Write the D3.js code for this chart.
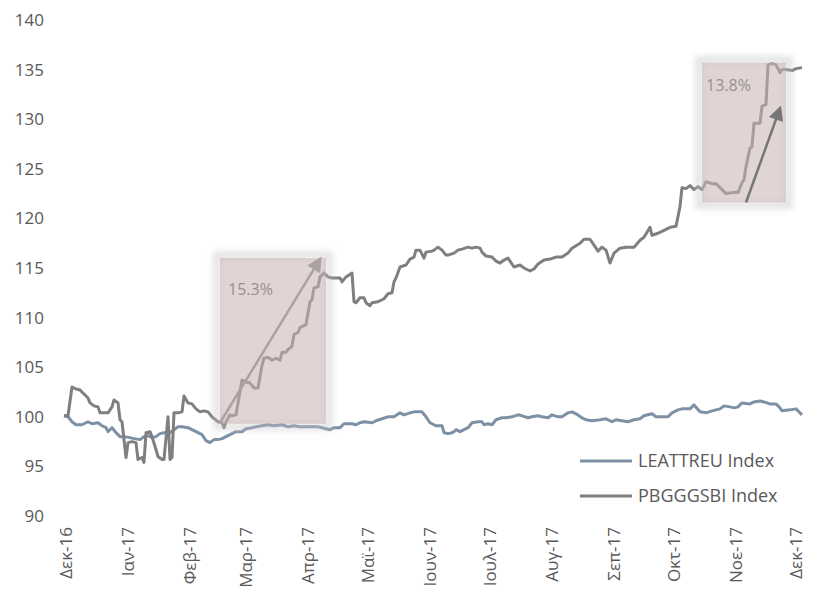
<!DOCTYPE html>
<html>
<head>
<meta charset="utf-8">
<script src="https://cdn.jsdelivr.net/npm/d3@7"></script>
<style>
  html, body { margin: 0; padding: 0; background: #ffffff; }
  svg { display: block; }
  text { font-family: "Open Sans", "DejaVu Sans", sans-serif; }
</style>
</head>
<body>
<svg id="chart" width="813" height="594"></svg>
<script>
// ---- data ----
const monthLabels = ["Δεκ-16", "Ιαν-17", "Φεβ-17", "Μαρ-17", "Απρ-17", "Μαϊ-17", "Ιουν-17",
                     "Ιουλ-17", "Αυγ-17", "Σεπ-17", "Οκτ-17", "Νοε-17", "Δεκ-17"];
const monthStarts = ["2016-12-01", "2017-01-01", "2017-02-01", "2017-03-01", "2017-04-01", "2017-05-01",
                     "2017-06-01", "2017-07-01", "2017-08-01", "2017-09-01", "2017-10-01", "2017-11-01", "2017-12-01"];
const yTicks = [90, 95, 100, 105, 110, 115, 120, 125, 130, 135, 140];

const leattreu = [
  ["2016-11-30",100.1],["2016-12-02",100.0],["2016-12-04",99.5],["2016-12-06",99.2],["2016-12-09",99.2],
  ["2016-12-12",99.5],["2016-12-14",99.3],["2016-12-17",99.4],["2016-12-19",99.1],["2016-12-21",98.9],
  ["2016-12-22",98.5],["2016-12-24",98.9],["2016-12-26",98.4],["2016-12-28",98.0],["2016-12-30",98.0],
  ["2017-01-02",97.9],["2017-01-04",97.8],["2017-01-07",97.7],["2017-01-09",98.0],["2017-01-11",98.1],
  ["2017-01-13",97.9],["2017-01-15",98.0],["2017-01-17",98.3],["2017-01-19",98.4],["2017-01-22",98.4],
  ["2017-01-24",98.7],["2017-01-26",99.0],["2017-01-28",99.0],["2017-01-31",98.9],["2017-02-02",98.7],
  ["2017-02-04",98.5],["2017-02-07",98.2],["2017-02-09",97.6],["2017-02-11",97.4],["2017-02-13",97.7],
  ["2017-02-15",97.7],["2017-02-17",97.8],["2017-02-19",98.0],["2017-02-22",98.3],["2017-02-24",98.5],
  ["2017-02-27",98.5],["2017-03-01",98.8],["2017-03-04",98.9],["2017-03-06",99.0],["2017-03-09",99.1],
  ["2017-03-12",99.2],["2017-03-15",99.1],["2017-03-19",99.2],["2017-03-22",99.0],["2017-03-25",99.1],
  ["2017-03-28",99.0],["2017-03-30",99.0],["2017-04-03",99.0],["2017-04-06",99.0],["2017-04-08",98.9],
  ["2017-04-10",98.8],["2017-04-12",98.7],["2017-04-14",98.9],["2017-04-17",98.9],["2017-04-19",99.3],
  ["2017-04-23",99.3],["2017-04-25",99.2],["2017-04-27",99.4],["2017-04-29",99.5],["2017-05-03",99.4],
  ["2017-05-05",99.6],["2017-05-08",99.8],["2017-05-11",100.0],["2017-05-14",100.0],["2017-05-17",100.4],
  ["2017-05-19",100.2],["2017-05-22",100.4],["2017-05-24",100.5],["2017-05-28",100.5],["2017-05-30",100.0],
  ["2017-06-01",99.4],["2017-06-04",99.1],["2017-06-07",99.1],["2017-06-08",98.4],["2017-06-10",98.3],
  ["2017-06-12",98.4],["2017-06-13",98.5],["2017-06-14",98.7],["2017-06-16",98.5],["2017-06-17",98.6],
  ["2017-06-20",98.9],["2017-06-22",99.4],["2017-06-25",99.5],["2017-06-27",99.5],["2017-06-28",99.2],
  ["2017-06-30",99.3],["2017-07-02",99.2],["2017-07-04",99.7],["2017-07-07",99.9],["2017-07-09",99.9],
  ["2017-07-12",100.0],["2017-07-15",100.2],["2017-07-17",100.1],["2017-07-20",99.9],["2017-07-22",100.0],
  ["2017-07-25",100.1],["2017-07-27",100.0],["2017-07-30",99.9],["2017-08-01",100.2],["2017-08-04",100.0],
  ["2017-08-06",100.0],["2017-08-09",100.4],["2017-08-11",100.5],["2017-08-13",100.3],["2017-08-16",99.9],
  ["2017-08-18",99.7],["2017-08-21",99.6],["2017-08-25",99.7],["2017-08-28",99.8],["2017-08-31",99.5],
  ["2017-09-02",99.7],["2017-09-05",99.6],["2017-09-08",99.5],["2017-09-11",99.7],["2017-09-14",99.8],
  ["2017-09-16",100.1],["2017-09-20",100.3],["2017-09-22",100.0],["2017-09-25",100.0],["2017-09-28",100.0],
  ["2017-09-30",100.4],["2017-10-03",100.7],["2017-10-05",100.8],["2017-10-09",100.8],["2017-10-11",101.2],
  ["2017-10-14",100.5],["2017-10-17",100.4],["2017-10-20",100.6],["2017-10-24",100.8],["2017-10-26",101.1],
  ["2017-10-29",101.0],["2017-10-31",100.9],["2017-11-02",101.0],["2017-11-04",101.4],["2017-11-08",101.3],
  ["2017-11-10",101.5],["2017-11-13",101.6],["2017-11-15",101.5],["2017-11-18",101.3],["2017-11-21",101.3],
  ["2017-11-23",100.9],["2017-11-24",100.6],["2017-11-28",100.7],["2017-12-01",100.8],["2017-12-03",100.4],
  ["2017-12-04",100.2]
];

const pbgggsbi = [
  ["2016-11-30",100.1],["2016-12-02",100.1],["2016-12-04",103.0],["2016-12-06",102.8],["2016-12-08",102.7],
  ["2016-12-10",102.3],["2016-12-12",101.9],["2016-12-13",101.4],["2016-12-15",101.1],["2016-12-17",101.0],
  ["2016-12-18",100.4],["2016-12-20",100.4],["2016-12-22",100.4],["2016-12-24",101.0],["2016-12-25",101.7],
  ["2016-12-27",101.4],["2016-12-28",99.7],["2016-12-29",99.5],["2016-12-31",95.9],["2017-01-01",97.4],
  ["2017-01-03",97.5],["2017-01-05",97.4],["2017-01-06",95.7],["2017-01-08",95.9],["2017-01-09",95.4],
  ["2017-01-10",98.4],["2017-01-12",98.5],["2017-01-13",98.0],["2017-01-15",96.7],["2017-01-16",96.0],
  ["2017-01-18",95.7],["2017-01-19",95.7],["2017-01-21",100.0],["2017-01-22",95.7],["2017-01-23",95.9],
  ["2017-01-24",100.4],["2017-01-26",100.4],["2017-01-28",100.5],["2017-01-29",102.1],["2017-01-31",101.4],
  ["2017-02-02",101.3],["2017-02-04",100.8],["2017-02-06",100.5],["2017-02-08",100.6],["2017-02-10",100.5],
  ["2017-02-12",100.0],["2017-02-15",99.5],["2017-02-17",99.4],["2017-02-18",98.9],["2017-02-19",99.5],
  ["2017-02-21",100.2],["2017-02-22",100.1],["2017-02-24",100.2],["2017-02-27",103.7],["2017-03-01",103.5],
  ["2017-03-03",103.4],["2017-03-05",102.9],["2017-03-07",102.9],["2017-03-09",105.2],["2017-03-10",105.9],
  ["2017-03-12",106.0],["2017-03-14",105.7],["2017-03-16",105.9],["2017-03-18",105.7],["2017-03-19",106.5],
  ["2017-03-21",106.5],["2017-03-22",106.8],["2017-03-24",107.1],["2017-03-25",108.3],["2017-03-27",108.5],
  ["2017-03-28",109.0],["2017-03-30",109.2],["2017-03-31",109.3],["2017-04-02",111.6],["2017-04-03",111.8],
  ["2017-04-04",113.0],["2017-04-06",113.1],["2017-04-07",114.1],["2017-04-09",114.5],["2017-04-11",114.1],
  ["2017-04-13",114.0],["2017-04-17",114.0],["2017-04-18",113.6],["2017-04-20",114.1],["2017-04-23",114.5],
  ["2017-04-24",111.6],["2017-04-25",111.5],["2017-04-27",112.0],["2017-04-29",112.0],["2017-04-30",111.5],
  ["2017-05-02",111.2],["2017-05-03",111.5],["2017-05-06",111.6],["2017-05-08",111.8],["2017-05-09",111.9],
  ["2017-05-11",112.4],["2017-05-13",112.5],["2017-05-14",113.6],["2017-05-15",114.0],["2017-05-17",115.1],
  ["2017-05-20",115.3],["2017-05-22",115.9],["2017-05-24",116.1],["2017-05-25",116.8],["2017-05-27",116.8],
  ["2017-05-29",116.0],["2017-05-30",116.6],["2017-06-02",116.7],["2017-06-03",116.8],["2017-06-05",117.1],
  ["2017-06-07",116.8],["2017-06-09",116.3],["2017-06-10",116.3],["2017-06-13",116.5],["2017-06-15",116.8],
  ["2017-06-17",116.9],["2017-06-20",117.1],["2017-06-22",117.0],["2017-06-24",117.1],["2017-06-26",117.0],
  ["2017-06-27",116.6],["2017-06-29",116.2],["2017-07-02",116.1],["2017-07-04",115.7],["2017-07-06",115.5],
  ["2017-07-08",115.8],["2017-07-10",116.0],["2017-07-13",115.1],["2017-07-16",115.3],["2017-07-18",115.0],
  ["2017-07-21",114.7],["2017-07-23",114.9],["2017-07-25",115.4],["2017-07-28",115.8],["2017-07-31",115.9],
  ["2017-08-03",116.1],["2017-08-06",116.1],["2017-08-09",116.5],["2017-08-11",117.0],["2017-08-15",117.5],
  ["2017-08-17",117.9],["2017-08-20",117.9],["2017-08-22",117.3],["2017-08-24",116.7],["2017-08-26",117.1],
  ["2017-08-28",116.8],["2017-08-30",115.5],["2017-09-01",116.5],["2017-09-04",117.0],["2017-09-07",117.1],
  ["2017-09-11",117.1],["2017-09-14",117.8],["2017-09-16",118.1],["2017-09-19",119.1],["2017-09-20",118.3],
  ["2017-09-23",118.5],["2017-09-26",118.8],["2017-09-29",119.1],["2017-10-02",119.2],["2017-10-04",121.2],
  ["2017-10-05",123.1],["2017-10-07",123.0],["2017-10-09",123.3],["2017-10-11",122.9],["2017-10-13",123.2],
  ["2017-10-15",122.9],["2017-10-17",123.7],["2017-10-20",123.5],["2017-10-22",123.5],["2017-10-25",122.9],
  ["2017-10-27",122.5],["2017-10-30",122.6],["2017-11-02",122.6],["2017-11-04",123.6],["2017-11-05",123.9],
  ["2017-11-06",125.2],["2017-11-08",127.1],["2017-11-09",127.2],["2017-11-10",129.6],["2017-11-13",129.6],
  ["2017-11-14",131.3],["2017-11-16",131.5],["2017-11-17",135.5],["2017-11-19",135.6],["2017-11-21",135.5],
  ["2017-11-23",134.7],["2017-11-24",135.0],["2017-11-26",135.0],["2017-11-29",134.9],["2017-12-01",135.1],
  ["2017-12-04",135.2]
];

// highlighted rallies: shaded period, arrow (from -> to) and the quoted gain
const rallyLabels = ["15.3%", "13.8%"];
const rallySpans = [["2017-02-16", "2017-04-10"], ["2017-10-15", "2017-11-26"]];
const rallyRanges = [[99.3, 116.0], [121.6, 135.7]];
const rallyArrowFrom = [["2017-02-16", 99.4], ["2017-11-06", 121.6]];
const rallyArrowTo = [["2017-04-07", 115.9], ["2017-11-23", 131.1]];
const rallyLabelPos = [["2017-02-20", 112.3], ["2017-10-17", 132.8]];

// ---- chart ----
const parse = d3.utcParse("%Y-%m-%d");
const svg = d3.select("#chart");

const x = d3.scaleUtc()
  .domain([parse("2016-12-01"), parse("2017-12-01")])
  .range([66, 796]);
const y = d3.scaleLinear().domain([90, 140]).range([516, 20]);

const textColor = "#595959";
const colors = { leat: "#7d90a4", pbg: "#7f7f7f" };

// y axis labels
const yAxis = d3.axisLeft(y).tickValues(yTicks).tickSize(0).tickPadding(0).tickFormat(d3.format("d"));
const gy = svg.append("g").attr("transform", "translate(44,0)").call(yAxis);
gy.select(".domain").remove();
gy.selectAll("text")
  .attr("fill", textColor)
  .style("font-size", "17px")
  .style("font-family", "'Open Sans', sans-serif");

// x axis labels (rotated)
const xAxis = d3.axisBottom(x)
  .tickValues(monthStarts.map(parse))
  .tickSize(0)
  .tickFormat((d, i) => monthLabels[i]);
const gx = svg.append("g").attr("transform", "translate(0,527)").call(xAxis);
gx.select(".domain").remove();
gx.selectAll("text")
  .attr("fill", textColor)
  .style("font-size", "17px")
  .style("font-family", "'Open Sans', sans-serif")
  .attr("text-anchor", "end")
  .attr("transform", "rotate(-90)")
  .attr("x", 0)
  .attr("y", 0)
  .attr("dx", 0)
  .attr("dy", "0.35em");

// series lines
const line = d3.line()
  .x(d => x(parse(d[0])))
  .y(d => y(d[1]))
  .curve(d3.curveLinear);

svg.append("path")
  .datum(leattreu)
  .attr("fill", "none")
  .attr("stroke", colors.leat)
  .attr("stroke-width", 3)
  .attr("stroke-linejoin", "round")
  .attr("d", line);

svg.append("path")
  .datum(pbgggsbi)
  .attr("fill", "none")
  .attr("stroke", colors.pbg)
  .attr("stroke-width", 3)
  .attr("stroke-linejoin", "round")
  .attr("d", line);

// rally highlight boxes
const defs = svg.append("defs");
defs.append("filter").attr("id", "glow")
  .attr("x", "-20%").attr("y", "-20%").attr("width", "140%").attr("height", "140%")
  .append("feGaussianBlur").attr("stdDeviation", 3);

const arrowColors = ["#aaa1a1", "#767676"];
arrowColors.forEach((c, i) => {
  defs.append("marker")
    .attr("id", "head" + i)
    .attr("viewBox", "0 0 10 10")
    .attr("refX", 8).attr("refY", 5)
    .attr("markerUnits", "userSpaceOnUse")
    .attr("markerWidth", 17).attr("markerHeight", 15)
    .attr("orient", "auto")
    .append("path")
    .attr("d", "M0,0 L10,5 L0,10 Z")
    .attr("fill", c);
});

rallyLabels.forEach((label, i) => {
  const x0 = x(parse(rallySpans[i][0]));
  const x1 = x(parse(rallySpans[i][1]));
  const y0 = y(rallyRanges[i][1]);
  const y1 = y(rallyRanges[i][0]);

  svg.append("rect")
    .attr("x", x0 - 3).attr("y", y0 - 3)
    .attr("width", x1 - x0 + 6).attr("height", y1 - y0 + 6)
    .attr("fill", "none")
    .attr("stroke", "#c4c4c4")
    .attr("stroke-width", 7)
    .attr("opacity", 0.5)
    .attr("filter", "url(#glow)");

  svg.append("rect")
    .attr("x", x0).attr("y", y0)
    .attr("width", x1 - x0).attr("height", y1 - y0)
    .attr("fill", "rgb(200,178,178)")
    .attr("fill-opacity", 0.56);

  svg.append("line")
    .attr("x1", x(parse(rallyArrowFrom[i][0]))).attr("y1", y(rallyArrowFrom[i][1]))
    .attr("x2", x(parse(rallyArrowTo[i][0]))).attr("y2", y(rallyArrowTo[i][1]))
    .attr("stroke", arrowColors[i])
    .attr("stroke-width", 2.5)
    .attr("marker-end", `url(#head${i})`);

  svg.append("text")
    .attr("x", x(parse(rallyLabelPos[i][0])))
    .attr("y", y(rallyLabelPos[i][1]))
    .attr("fill", "#9a8f8f")
    .style("font-size", "16px")
    .text(label);
});

// legend
const legend = [["LEATTREU Index", colors.leat], ["PBGGGSBI Index", colors.pbg]];
const lg = svg.append("g").attr("transform", "translate(580,461)");
legend.forEach(([name, c], i) => {
  const row = lg.append("g").attr("transform", `translate(0,${i * 35})`);
  row.append("line").attr("x1", 0).attr("x2", 52).attr("y1", 0).attr("y2", 0)
    .attr("stroke", c).attr("stroke-width", 3);
  row.append("text").attr("x", 58).attr("y", 0).attr("dy", "0.35em")
    .attr("fill", textColor).style("font-size", "18px").text(name);
});
</script>
</body>
</html>
